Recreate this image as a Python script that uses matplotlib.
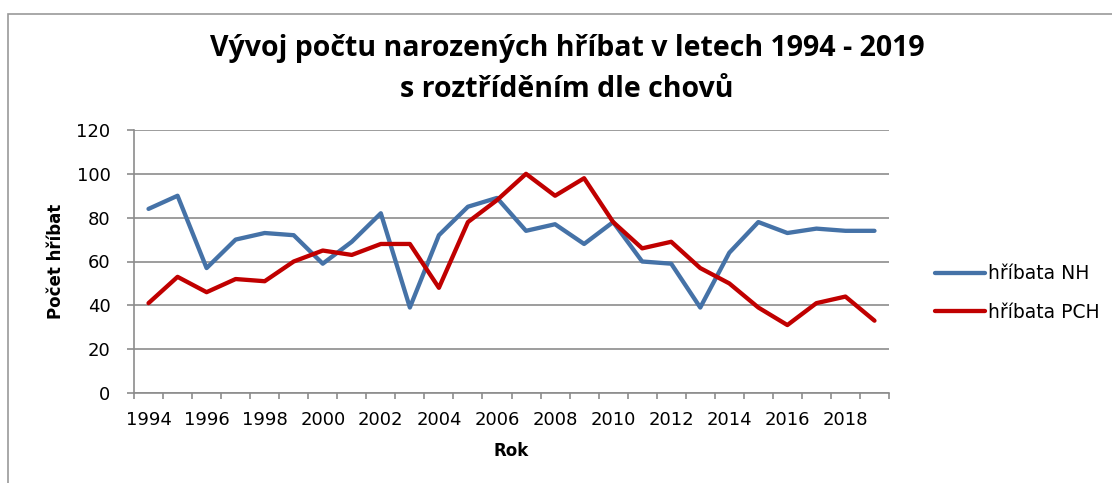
import matplotlib
matplotlib.use("Agg")
import matplotlib.pyplot as plt
from matplotlib.patches import Rectangle
from matplotlib.ticker import FixedLocator, NullFormatter

years = list(range(1994, 2020))
nh = [84, 90, 57, 70, 73, 72, 59, 69, 82, 39, 72, 85, 89, 74, 77, 68, 78, 60, 59, 39, 64, 78, 73, 75, 74, 74]
pch = [41, 53, 46, 52, 51, 60, 65, 63, 68, 68, 48, 78, 88, 100, 90, 98, 78, 66, 69, 57, 50, 39, 31, 41, 44, 33]
series_names = ["hříbata NH", "hříbata PCH"]
title = "Vývoj počtu narozených hříbat v letech 1994 - 2019\ns roztříděním dle chovů"
xlabel = "Rok"
ylabel = "Počet hříbat"

W, H = 1112, 483
fig = plt.figure(figsize=(W / 100, H / 100), dpi=100)
fig.patch.set_facecolor("white")

# chart frame
fig.patches.append(Rectangle((8 / W, -0.05), 1.2, 1 - 14 / H + 0.05, transform=fig.transFigure,
                             fill=False, edgecolor="#999999", linewidth=1.2))

left, right, top, bottom = 134, 889, 130, 393
ax = fig.add_axes([left / W, 1 - bottom / H, (right - left) / W, (bottom - top) / H])

x = list(range(len(years)))
ax.plot(x, nh, color="#4572A7", linewidth=3.1, solid_capstyle="round", label=series_names[0], zorder=3)
ax.plot(x, pch, color="#C00000", linewidth=3.1, solid_capstyle="round", label=series_names[1], zorder=3)

ax.set_xlim(-0.5, len(years) - 0.5)
ax.set_ylim(0, 120)
ax.set_yticks(range(0, 121, 20))
ax.grid(axis="y", color="#8c8c8c", linewidth=1.2)
ax.set_axisbelow(True)

# category ticks at boundaries, labels at centers every 2 years
ax.xaxis.set_major_locator(FixedLocator([i - 0.5 for i in range(len(years) + 1)]))
ax.xaxis.set_major_formatter(NullFormatter())
ax.xaxis.set_minor_locator(FixedLocator(x[::2]))
ax.set_xticklabels([str(y) for y in years[::2]], minor=True)
ax.tick_params(axis="x", which="major", length=4, color="#8c8c8c", width=1.2)
ax.tick_params(axis="x", which="minor", length=0, labelsize=13, pad=13)
ax.tick_params(axis="y", length=5, color="#8c8c8c", width=1.2, labelsize=13, pad=12)

for s in ["top", "right"]:
    ax.spines[s].set_visible(False)
for s in ["left", "bottom"]:
    ax.spines[s].set_color("#8c8c8c")
    ax.spines[s].set_linewidth(1.2)

ax.set_xlabel(xlabel, fontsize=12, fontweight="bold", labelpad=9)
ax.set_ylabel(ylabel, fontsize=12, fontweight="bold", labelpad=8)

fig.text(567 / W, 1 - 69 / H, title, ha="center", va="center", fontsize=20.5,
         fontweight="bold", family=["Open Sans", "DejaVu Sans"], linespacing=1.55)

leg = ax.legend(loc="center left", bbox_to_anchor=(918 / W, 1 - 293 / H), bbox_transform=fig.transFigure,
                frameon=False, fontsize=13.5, handlelength=2.65, handletextpad=0.2, labelspacing=1.05)

fig.savefig("out.png", dpi=100, facecolor="white")
